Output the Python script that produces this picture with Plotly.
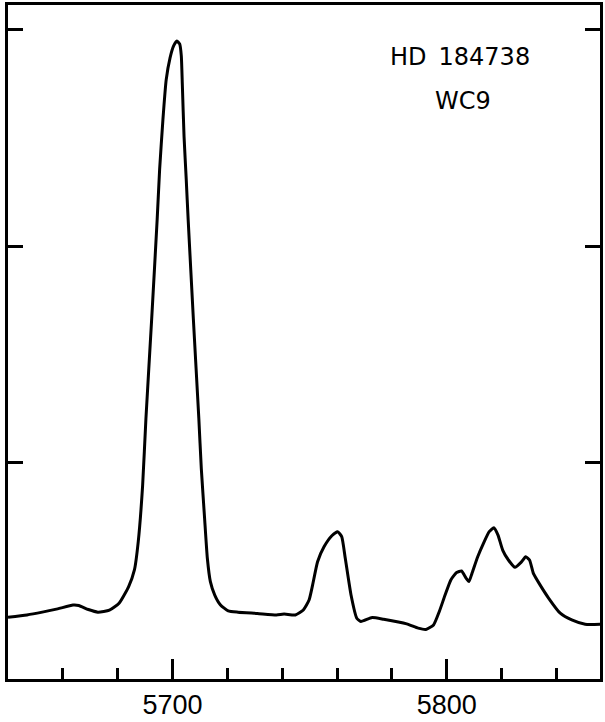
import plotly.graph_objects as go

# Spectrum of HD 184738 (WC9) around the C III 5696 / C IV 5801-12 region
wavelength = [
    5640.0, 5646.9, 5652.5, 5658.1, 5663.7, 5665.8, 5669.3, 5672.8, 5677.0, 5680.5,
    5684.0, 5686.1, 5687.5, 5689.1, 5690.3, 5692.4, 5694.4, 5695.3, 5696.5, 5697.7,
    5699.1, 5700.4, 5701.6, 5702.6, 5703.2, 5703.6, 5704.2, 5705.0, 5705.7,
    5707.6, 5709.6, 5710.5, 5711.7, 5712.7, 5713.8, 5715.4, 5717.5, 5720.3, 5723.9,
    5730.9, 5737.9, 5740.7, 5744.8, 5747.7, 5749.8, 5751.1, 5752.9, 5755.3, 5758.1,
    5760.2, 5761.7, 5763.0, 5765.1, 5767.2, 5768.7, 5772.8, 5777.0, 5785.4, 5789.6,
    5792.4, 5795.2, 5797.3, 5799.4, 5801.5, 5803.6, 5805.4, 5807.1, 5808.1, 5809.2,
    5811.3, 5813.4, 5815.5, 5817.2, 5818.7, 5820.4, 5822.5, 5824.9, 5827.1, 5828.8,
    5830.2, 5831.6, 5833.7, 5837.2, 5841.4, 5845.6, 5850.5, 5856.0,
]
flux = [
    0.285, 0.296, 0.309, 0.324, 0.342, 0.340, 0.321, 0.309, 0.318, 0.350,
    0.427, 0.504, 0.635, 0.895, 1.203, 1.664, 2.124, 2.355, 2.585, 2.770,
    2.871, 2.926, 2.949, 2.935, 2.880, 2.739, 2.508, 2.309, 2.124,
    1.664, 1.203, 0.972, 0.742, 0.558, 0.450, 0.388, 0.342, 0.315, 0.309,
    0.303, 0.296, 0.300, 0.296, 0.319, 0.365, 0.435, 0.542, 0.612, 0.662,
    0.681, 0.658, 0.558, 0.388, 0.281, 0.266, 0.284, 0.276, 0.255, 0.235,
    0.229, 0.250, 0.312, 0.388, 0.458, 0.492, 0.499, 0.465, 0.450, 0.488,
    0.565, 0.627, 0.681, 0.699, 0.665, 0.596, 0.550, 0.516, 0.539, 0.565,
    0.550, 0.488, 0.442, 0.373, 0.304, 0.273, 0.253, 0.253,
]

major_ticks = [5700, 5800]
major_labels = ["5700", "5800"]
minor_ticks = [5660, 5680, 5720, 5740, 5760, 5780, 5820, 5840]
flux_ticks = [1, 2, 3]

star_name = "HD\u2002184738"
spectral_type = "WC9"

fig = go.Figure()
fig.add_trace(go.Scatter(
    x=wavelength, y=flux, mode="lines",
    line=dict(color="black", width=3, shape="spline", smoothing=0.5),
    hoverinfo="skip", showlegend=False,
))

fig.update_layout(
    width=605, height=722,
    margin=dict(l=8, r=2, t=5, b=41),
    paper_bgcolor="white", plot_bgcolor="white",
    showlegend=False,
    xaxis=dict(
        range=[5640.0, 5855.9], showgrid=False, zeroline=False,
        showline=True, linecolor="black", linewidth=2.5, mirror=True,
        tickvals=major_ticks, ticktext=major_labels,
        ticks="inside", ticklen=20, tickwidth=2.5, tickcolor="black",
        tickfont=dict(family="Liberation Sans", size=27, color="black"),
        minor=dict(tickvals=minor_ticks, ticks="inside", ticklen=11,
                   tickwidth=2.5, tickcolor="black", showgrid=False),
    ),
    yaxis=dict(
        range=[0, 3.115], showgrid=False, zeroline=False,
        showline=True, linecolor="black", linewidth=2.5, mirror="ticks",
        tickvals=flux_ticks, ticks="inside", ticklen=15, tickwidth=2.5,
        tickcolor="black", showticklabels=False,
    ),
    annotations=[
        dict(text=star_name, xref="paper", yref="paper", x=0.764, y=0.9235,
             showarrow=False, xanchor="center", yanchor="middle",
             font=dict(family="DejaVu Sans", size=24, color="black")),
        dict(text=spectral_type, xref="paper", yref="paper", x=0.769, y=0.858,
             showarrow=False, xanchor="center", yanchor="middle",
             font=dict(family="DejaVu Sans", size=24, color="black")),
    ],
)

fig.write_html("out.html")
